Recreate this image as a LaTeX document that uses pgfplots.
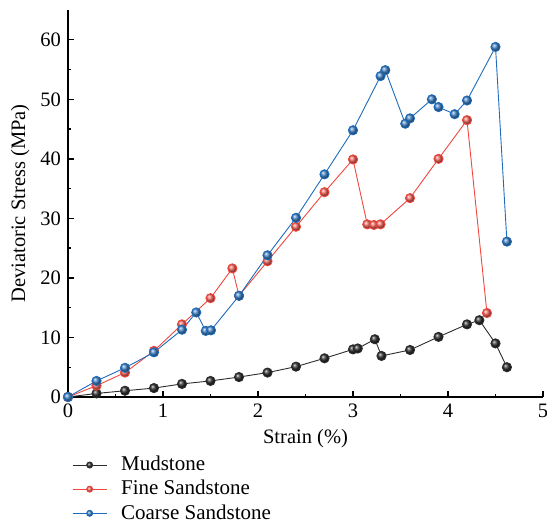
\documentclass[border=0pt]{standalone}
\usepackage{pgfplots}
\pgfplotsset{compat=1.18}
\usepackage{fontspec}
\setmainfont{Liberation Serif}
\definecolor{mblack}{RGB}{45,45,45}
\definecolor{mred}{RGB}{240,72,62}
\definecolor{mblue}{RGB}{30,108,188}
\begin{document}
\fontsize{20.5}{24}\selectfont
\begin{tikzpicture}
\begin{axis}[
  name=ax,
  scale only axis,
  width=475pt, height=387pt,
  xmin=0, xmax=5, ymin=0, ymax=65,
  axis x line*=bottom, axis y line*=left,
  axis line style={line width=1.4pt,-},
  every tick/.style={line width=1.4pt,black},
  tick align=inside,
  major tick length=6pt, minor tick length=3.5pt,
  xtick={0,1,2,3,4,5}, ytick={0,10,20,30,40,50,60},
  minor x tick num=1, minor y tick num=1,
  /pgf/number format/assume math mode=true,
  ticklabel style={font=\fontsize{20.5}{24}\selectfont},
  label style={font=\fontsize{20.5}{24}\selectfont},
  xlabel={Strain (\%)},
  ylabel={Deviatoric Stress (MPa)},
  xlabel style={yshift=2pt},
  ylabel style={yshift=-3pt},
  clip=false,
  legend style={at={(0,0)}, anchor=north west, yshift=-56pt, xshift=1pt,
    draw=none, fill=none, font=\fontsize{21}{24}\selectfont, row sep=2.5pt,
    inner ysep=1pt,
    legend cell align=left,
    /tikz/every odd column/.append style={column sep=12pt}},
  legend image code/.code={%
    \draw[mark repeat=2,mark phase=2,#1,mark size=3pt] plot coordinates {(0pt,0pt) (17pt,0pt) (34pt,0pt)};},
]
\addplot[mblack, line width=0.9pt, mark=ball, mark size=4.6pt, mark options={ball color=black!82!white}] coordinates {
(0,0) (0.30,0.6) (0.60,1.05) (0.905,1.5) (1.20,2.2) (1.50,2.7) (1.80,3.35) (2.10,4.1) (2.40,5.1) (2.70,6.5) (3.00,8.0) (3.05,8.15) (3.23,9.7) (3.30,6.9) (3.60,7.9) (3.90,10.1) (4.20,12.2) (4.33,12.9) (4.50,9.0) (4.62,5.0)
};
\addlegendentry{Mudstone}
\addplot[mred, line width=0.9pt, mark=ball, mark size=4.6pt, mark options={ball color=mred!85!white}] coordinates {
(0,0) (0.30,1.9) (0.60,4.1) (0.905,7.75) (1.20,12.2) (1.50,16.6) (1.73,21.6) (1.80,17.0) (2.10,22.8) (2.40,28.6) (2.70,34.4) (3.00,39.9) (3.15,29.0) (3.22,28.9) (3.29,29.0) (3.60,33.4) (3.90,40.0) (4.20,46.5) (4.41,14.1)
};
\addlegendentry{Fine Sandstone}
\addplot[mblue, line width=0.9pt, mark=ball, mark size=4.6pt, mark options={ball color=mblue!85!white}] coordinates {
(0,0) (0.30,2.7) (0.60,4.9) (0.905,7.5) (1.20,11.3) (1.35,14.2) (1.45,11.1) (1.505,11.2) (1.80,17.0) (2.10,23.8) (2.40,30.1) (2.70,37.4) (3.00,44.8) (3.29,53.9) (3.34,54.9) (3.55,45.9) (3.60,46.8) (3.83,50.0) (3.90,48.7) (4.07,47.5) (4.20,49.8) (4.50,58.8) (4.62,26.1)
};
\addlegendentry{Coarse Sandstone}
\end{axis}
\pgfresetboundingbox
\path ([shift={(-68pt,-129pt)}]ax.south west) rectangle ([shift={(4pt,10pt)}]ax.north east);
\end{tikzpicture}
\end{document}
